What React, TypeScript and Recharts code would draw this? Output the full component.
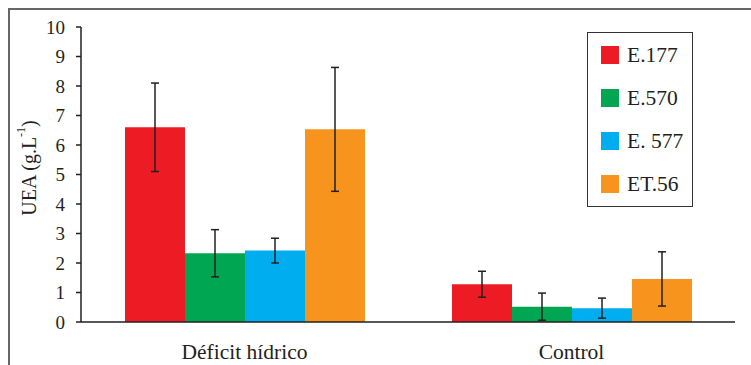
import { BarChart, Bar, XAxis, YAxis, ErrorBar } from 'recharts'

// Conditions on the x axis
const categories = ['Déficit hídrico', 'Control']

// Strains, in drawing order
const strains = ['E.177', 'E.570', 'E. 577', 'ET.56']
const colors = ['#ED1C24', '#00A651', '#00AEEF', '#F7941D']

// UEA (g.L-1) per condition, and its error
const e177 = [6.6, 1.28]
const e177Err = [1.5, 0.44]
const e570 = [2.33, 0.52]
const e570Err = [0.8, 0.46]
const e577 = [2.42, 0.47]
const e577Err = [0.42, 0.34]
const et56 = [6.53, 1.46]
const et56Err = [2.1, 0.92]

const yTicks = [0, 1, 2, 3, 4, 5, 6, 7, 8, 9, 10]

const values = [e177, e570, e577, et56]
const errors = [e177Err, e570Err, e577Err, et56Err]

const data = categories.map((name, i) => {
  const row: Record<string, string | number> = { name }
  values.forEach((v, k) => {
    row['s' + k] = v[i]
    row['s' + k + 'err'] = errors[k][i]
  })
  return row
})

const FONT = '"Liberation Serif", "Times New Roman", serif'
const INK = '#231f20'

// rotated axis title, sitting a bit above the middle of the axis
function YLabel(props: any) {
  const vb = props.viewBox || { x: 0, y: 0, width: 0, height: 0 }
  const cx = vb.x + 21
  const cy = vb.y + 141
  return (
    <text
      x={cx}
      y={cy}
      transform={`rotate(-90 ${cx} ${cy})`}
      textAnchor="middle"
      dominantBaseline="central"
      fill={INK}
      fontFamily={FONT}
      fontSize={20}
    >
      UEA (g.L
      <tspan fontSize={12} dy={-8}>-1</tspan>
      <tspan dy={8}>)</tspan>
    </text>
  )
}

function LegendBox() {
  return (
    <div style={{
      position: 'absolute', left: 587, top: 32,
      width: 104, height: 173, border: '1.5px solid #333', background: '#fff',
      fontFamily: FONT, fontSize: 21.5, color: INK,
    }}>
      {strains.map((s, i) => (
        <div key={s} style={{ height: 43, display: 'flex', alignItems: 'center', marginTop: i === 0 ? 0.5 : 0 }}>
          <span style={{ width: 18, height: 18, background: colors[i], marginLeft: 13, marginRight: 8, flexShrink: 0 }} />
          <span>{s}</span>
        </div>
      ))}
    </div>
  )
}

export default function App() {
  return (
    <div style={{ position: 'fixed', left: 0, top: 0, width: 751, height: 365, overflow: 'hidden', background: '#fff' }}>
      {/* frame around the figure */}
      <div style={{
        position: 'absolute', left: 8, top: 8, width: 800, height: 400,
        borderTop: '2px solid #666', borderLeft: '2px solid #666',
      }} />
      <BarChart
        width={751}
        height={365}
        data={data}
        margin={{ top: 27, right: 16, left: 8, bottom: 0 }}
        barGap={0}
        barSize={60}
        style={{ position: 'absolute', left: 0, top: 0 }}
      >
        <XAxis
          dataKey="name"
          height={43}
          axisLine={{ stroke: INK, strokeWidth: 1.5 }}
          tickLine={false}
          tickSize={0}
          tickMargin={22}
          tick={{ fill: INK, fontFamily: FONT, fontSize: 21.5 }}
        />
        <YAxis
          width={73}
          domain={[0, 10]}
          ticks={yTicks}
          interval={0}
          axisLine={{ stroke: INK, strokeWidth: 1.5 }}
          tickLine={{ stroke: INK, strokeWidth: 1.5 }}
          tickSize={5}
          tickMargin={11}
          tick={{ fill: INK, fontFamily: FONT, fontSize: 19 }}
          label={{ content: YLabel }}
        />
        {strains.map((s, k) => (
          <Bar key={s} dataKey={'s' + k} name={s} fill={colors[k]} isAnimationActive={false}>
            <ErrorBar dataKey={'s' + k + 'err'} width={4} stroke={INK} strokeWidth={1.5} />
          </Bar>
        ))}
      </BarChart>
      <LegendBox />
    </div>
  )
}
